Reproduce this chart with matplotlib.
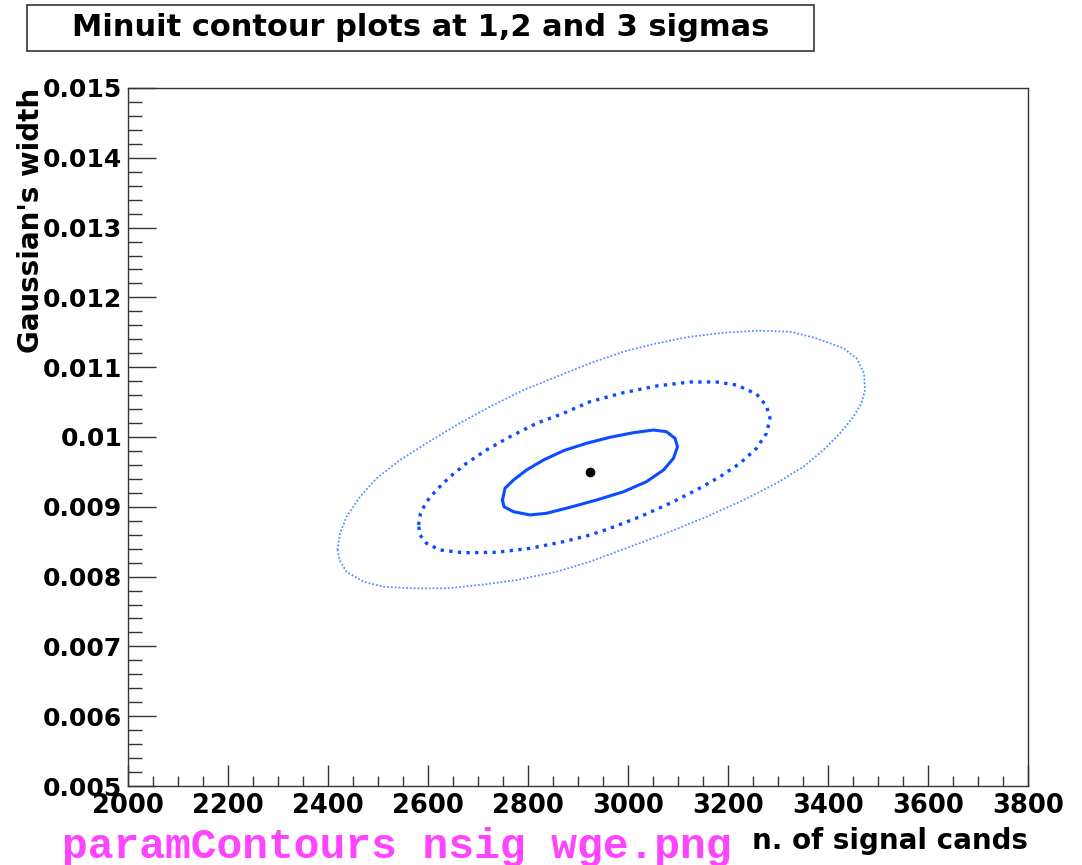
import matplotlib
matplotlib.use('Agg')
import matplotlib.pyplot as plt
from matplotlib.patches import Rectangle
from matplotlib.ticker import MultipleLocator, FuncFormatter

# fit result (best point) and the 1, 2, 3 sigma Minuit contours
best_nsig = 2924
best_width = 0.00950

sig1_nsig = [2749, 2754, 2771, 2797, 2831, 2871, 2917, 2964, 3011, 3051, 3077,
             3094, 3099, 3091, 3071, 3037, 2991, 2937, 2884, 2837, 2804, 2771,
             2752]
sig1_width = [0.009097, 0.009265, 0.009384, 0.009527, 0.009670, 0.009804,
              0.009910, 0.009996, 0.010062, 0.010100, 0.010076, 0.009981,
              0.009861, 0.009695, 0.009527, 0.009360, 0.009216, 0.009097,
              0.008993, 0.008907, 0.008883, 0.008930, 0.009001]

sig2_nsig = [2581, 2585, 2597, 2617, 2644, 2677, 2717, 2764, 2817, 2871, 2924,
             2991, 3057, 3124, 3177, 3217, 3257, 3277, 3284, 3277, 3257, 3224,
             3184, 3137, 3084, 3024, 2964, 2924, 2871, 2804, 2737, 2671, 2624,
             2597, 2584]
sig2_width = [0.008739, 0.008907, 0.009073, 0.009241, 0.009431, 0.009623,
              0.009814, 0.010004, 0.010196, 0.010340, 0.010506, 0.010635,
              0.010731, 0.010788, 0.010788, 0.010745, 0.010616, 0.010444,
              0.010268, 0.010053, 0.009838, 0.009623, 0.009431, 0.009241,
              0.009050, 0.008858, 0.008692, 0.008596, 0.008500, 0.008405,
              0.008348, 0.008342, 0.008381, 0.008477, 0.008596]

sig3_nsig = [2419, 2424, 2437, 2464, 2497, 2544, 2597, 2657, 2724, 2791, 2857,
             2924, 2991, 3057, 3124, 3191, 3257, 3324, 3377, 3431, 3457, 3472,
             3474, 3467, 3451, 3424, 3391, 3351, 3297, 3231, 3157, 3084, 3004,
             2924, 2857, 2777, 2704, 2637, 2571, 2511, 2471, 2437, 2423]
sig3_width = [0.008381, 0.008620, 0.008858, 0.009145, 0.009408, 0.009670,
              0.009910, 0.010172, 0.010434, 0.010673, 0.010864, 0.011056,
              0.011222, 0.011342, 0.011437, 0.011494, 0.011523, 0.011509,
              0.011414, 0.011271, 0.011128, 0.010913, 0.010673, 0.010483,
              0.010291, 0.010053, 0.009814, 0.009575, 0.009337, 0.009097,
              0.008858, 0.008643, 0.008428, 0.008214, 0.008070, 0.007951,
              0.007880, 0.007832, 0.007832, 0.007855, 0.007927, 0.008070,
              0.008238]

title = "Minuit contour plots at 1,2 and 3 sigmas"
xlabel = "n. of signal cands"
ylabel = "Gaussian's width"
fname = "paramContours nsig wge.png"


def closed(a):
    return list(a) + [a[0]]


plt.rcParams['font.family'] = 'DejaVu Sans'
plt.rcParams['font.weight'] = 'bold'

W, H = 1082, 865
fig = plt.figure(figsize=(W / 100, H / 100), dpi=100)
ax = fig.add_axes([128 / W, 1 - 786 / H, 900 / W, 698 / H])

ax.plot(closed(sig3_nsig), closed(sig3_width), color='#5a8cff', lw=1.3,
        linestyle=(0, (1, 1.1)), solid_joinstyle='round')
ax.plot(closed(sig2_nsig), closed(sig2_width), color='#0a4cff', lw=2.4,
        linestyle=(0, (1, 1.6)))
ax.plot(closed(sig1_nsig), closed(sig1_width), color='#0a4cff', lw=2.2,
        solid_joinstyle='round')
ax.plot([best_nsig], [best_width], 'o', color='black', ms=6)

ax.set_xlim(2000, 3800)
ax.set_ylim(0.005, 0.015)

ax.xaxis.set_major_locator(MultipleLocator(200))
ax.xaxis.set_minor_locator(MultipleLocator(50))
ax.yaxis.set_major_locator(MultipleLocator(0.001))
ax.yaxis.set_minor_locator(MultipleLocator(0.0002))
ax.xaxis.set_major_formatter(FuncFormatter(lambda v, p: '%d' % round(v)))
ax.yaxis.set_major_formatter(FuncFormatter(lambda v, p: '%g' % round(v, 4)))

ax.tick_params(axis='both', which='both', direction='in', colors='#333333',
               labelcolor='black', width=1)
ax.tick_params(axis='x', which='major', length=15, labelsize=18.5, pad=5)
ax.tick_params(axis='x', which='minor', length=7.5)
ax.tick_params(axis='y', which='major', length=20, labelsize=18, pad=4)
ax.tick_params(axis='y', which='minor', length=10)
for s in ax.spines.values():
    s.set_color('#333333')
    s.set_linewidth(1)

# title box
fig.patches.append(Rectangle((27 / W, 1 - 51 / H), 787 / W, 46 / H,
                             transform=fig.transFigure, fill=False,
                             edgecolor='#333333', lw=1.2))
fig.text(421 / W, 1 - 27 / H, title, ha='center', va='center', fontsize=22,
         fontweight='bold')

fig.text(1028 / W, 1 - 841 / H, xlabel, ha='right', va='center', fontsize=20,
         fontweight='bold')
fig.text(31 / W, 1 - 88 / H, ylabel, ha='center', va='top', rotation=90,
         fontsize=20, fontweight='bold')
fig.text(62 / W, 1 - 847 / H, fname, ha='left', va='center', fontsize=31,
         fontweight='bold', family='Liberation Mono', color='#ff44ff')

fig.savefig('out.png', dpi=100)
